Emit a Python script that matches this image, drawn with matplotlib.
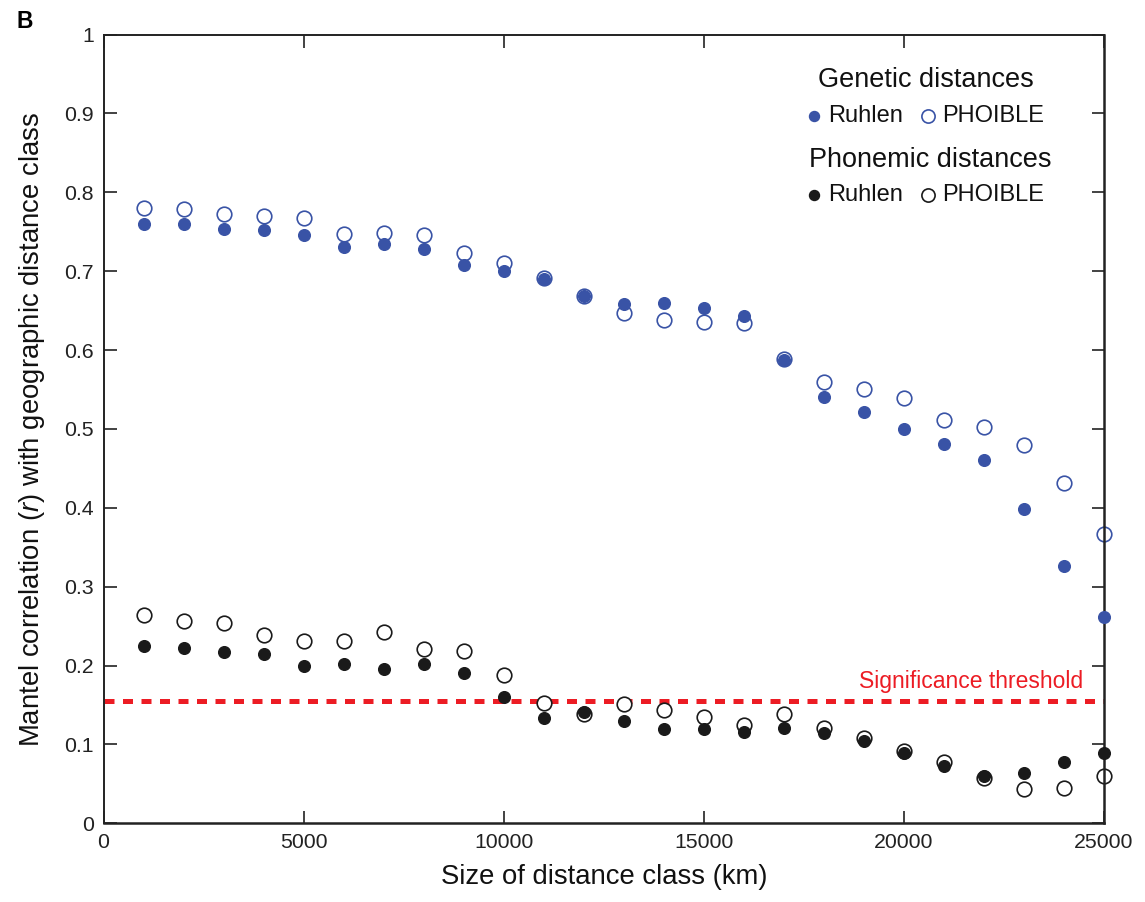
import matplotlib
matplotlib.use("Agg")
import matplotlib.pyplot as plt

plt.rcParams['font.family'] = ['Liberation Sans', 'DejaVu Sans']
plt.rcParams['mathtext.fontset'] = 'custom'
plt.rcParams['mathtext.rm'] = 'Liberation Sans'
plt.rcParams['mathtext.it'] = 'Liberation Sans:italic'

distance_km = [1000, 2000, 3000, 4000, 5000, 6000, 7000, 8000, 9000, 10000,
               11000, 12000, 13000, 14000, 15000, 16000, 17000, 18000, 19000, 20000,
               21000, 22000, 23000, 24000, 25000]

genetic_ruhlen = [0.760, 0.760, 0.754, 0.752, 0.746, 0.731, 0.735, 0.728, 0.708, 0.700,
                  0.690, 0.669, 0.659, 0.660, 0.653, 0.643, 0.588, 0.541, 0.521, 0.500,
                  0.481, 0.460, 0.398, 0.326, 0.261]
genetic_phoible = [0.780, 0.779, 0.773, 0.770, 0.767, 0.747, 0.749, 0.746, 0.723, 0.711,
                   0.692, 0.668, 0.647, 0.638, 0.635, 0.634, 0.589, 0.559, 0.551, 0.539,
                   0.511, 0.503, 0.480, 0.432, 0.367]
phonemic_ruhlen = [0.225, 0.222, 0.217, 0.214, 0.200, 0.202, 0.196, 0.202, 0.190, 0.160,
                   0.133, 0.141, 0.130, 0.120, 0.119, 0.116, 0.121, 0.114, 0.104, 0.089,
                   0.073, 0.060, 0.064, 0.078, 0.089]
phonemic_phoible = [0.264, 0.257, 0.254, 0.239, 0.231, 0.231, 0.242, 0.221, 0.218, 0.188,
                    0.152, 0.138, 0.151, 0.143, 0.135, 0.124, 0.138, 0.121, 0.108, 0.092,
                    0.078, 0.058, 0.044, 0.045, 0.060]
threshold = 0.155

x_ticks = [0, 5000, 10000, 15000, 20000, 25000]
y_ticks = [0, 0.1, 0.2, 0.3, 0.4, 0.5, 0.6, 0.7, 0.8, 0.9, 1]
y_tick_labels = ['0', '0.1', '0.2', '0.3', '0.4', '0.5', '0.6', '0.7', '0.8', '0.9', '1']

blue = '#3953a6'
black = '#1a1a1a'
red = '#ec1c24'
dark = '#222222'

fig = plt.figure(figsize=(11.45, 9.02), dpi=100)
ax = fig.add_axes([0.0904, 0.0873, 0.8738, 0.8743])

ax.axhline(threshold, color=red, lw=3.6, ls=(0, (2.0, 1.7)), zorder=1)

ax.plot(distance_km, phonemic_phoible, ls='none', marker='o', ms=10.5,
        mfc='white', mec=black, mew=1.2, zorder=2, clip_on=False)
ax.plot(distance_km, phonemic_ruhlen, ls='none', marker='o', ms=8.4,
        mfc=black, mec=black, zorder=3, clip_on=False)
ax.plot(distance_km, genetic_phoible, ls='none', marker='o', ms=10.5,
        mfc='white', mec=blue, mew=1.2, zorder=2, clip_on=False)
ax.plot(distance_km, genetic_ruhlen, ls='none', marker='o', ms=8.4,
        mfc=blue, mec=blue, zorder=3, clip_on=False)

ax.set_xlim(0, 25000)
ax.set_ylim(0, 1)
ax.set_xticks(x_ticks)
ax.set_xticklabels([str(v) for v in x_ticks])
ax.set_yticks(y_ticks)
ax.set_yticklabels(y_tick_labels)
ax.tick_params(direction='in', top=True, right=True, length=9, width=1.2,
               labelsize=15.3, pad=7, colors=dark)
for name, s in ax.spines.items():
    s.set_linewidth(1.8 if name in ('bottom', 'right') else 1.4)
    s.set_color(dark)

ax.set_xlabel('Size of distance class (km)', fontsize=19.8, labelpad=9, color='#111111')
ax.set_ylabel('Mantel correlation ($\\mathit{r}$) with geographic distance class',
              fontsize=19.8, labelpad=12, color='#111111')

ax.text(0.9790, 0.1792, 'Significance threshold', transform=ax.transAxes,
        ha='right', va='center', color=red, fontsize=16.5)

# legend
tr = ax.transAxes
ax.text(0.8221, 0.9426, 'Genetic distances', transform=tr, ha='center', va='center',
        fontsize=19.5, color='#111111')
ax.text(0.8266, 0.8412, 'Phonemic distances', transform=tr, ha='center', va='center',
        fontsize=19.5, color='#111111')
for yrow, col in [(0.8972, blue), (0.7970, black)]:
    ax.plot([0.7101], [yrow], transform=tr, marker='o', ms=7.2, mfc=col, mec=col,
            ls='none', clip_on=False)
    ax.text(0.7241, yrow, 'Ruhlen', transform=tr, ha='left', va='center', fontsize=17,
            color='#111111')
    ax.plot([0.8241], [yrow], transform=tr, marker='o', ms=9.5, mfc='white', mec=col,
            mew=1.2, ls='none', clip_on=False)
    ax.text(0.8380, yrow, 'PHOIBLE', transform=tr, ha='left', va='center', fontsize=17,
            color='#111111')

fig.text(17 / 1145, 1 - 21 / 902, 'B', ha='left', va='center', fontsize=16.5,
         fontweight='bold')

fig.savefig('out.png', dpi=100)
